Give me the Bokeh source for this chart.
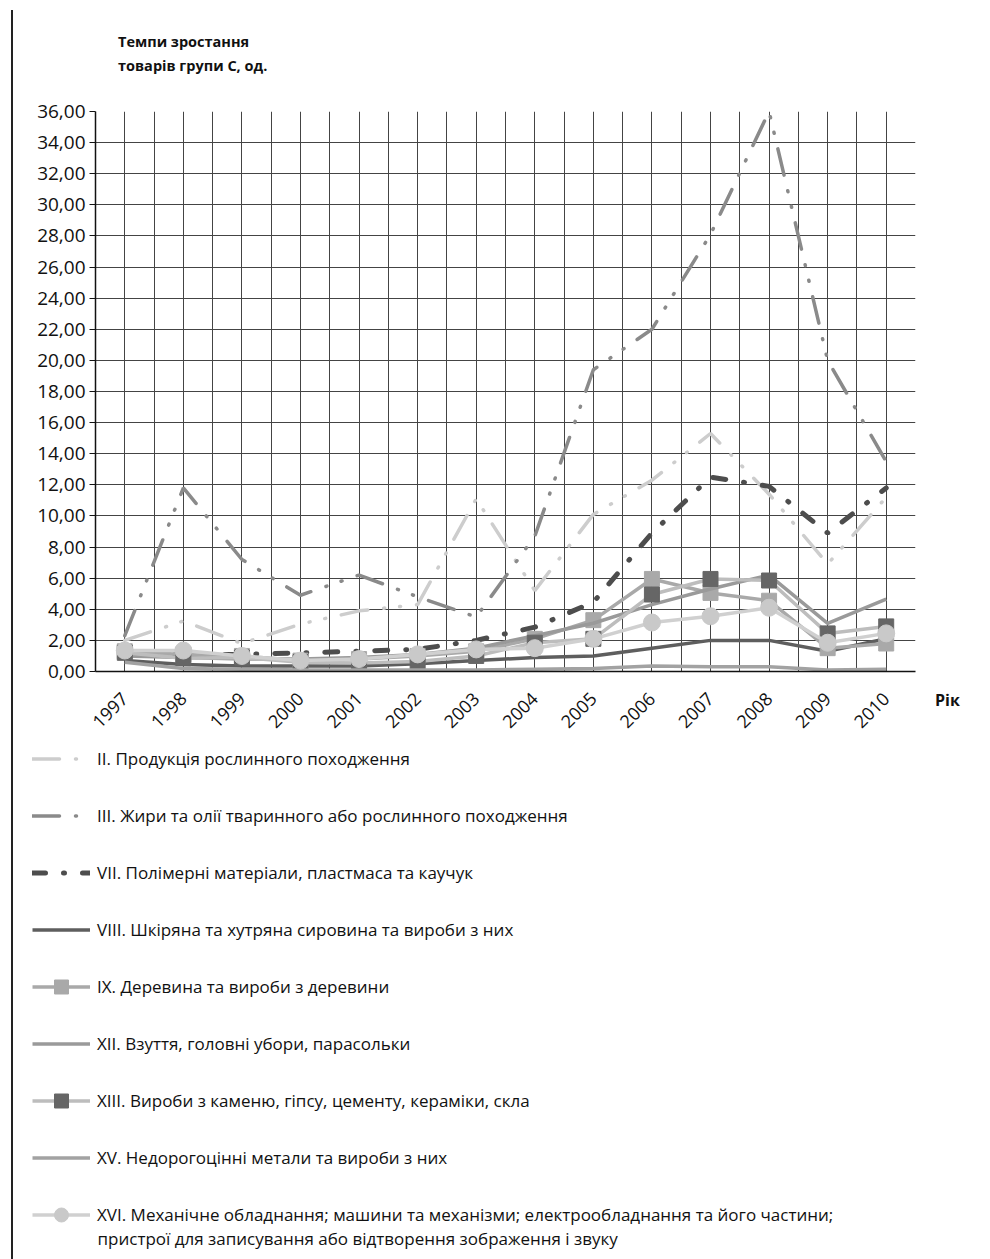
import numpy as np
from bokeh.plotting import figure
from bokeh.models import (FixedTicker, CustomJSTickFormatter, Legend, LegendItem,
                          Div, Range1d, Label)
from bokeh.layouts import row, column
from bokeh.embed import file_html
from bokeh.resources import INLINE

years = list(range(1997, 2011))

s_ii = [2.0, 3.25, 1.8, 3.05, 3.9, 4.3, 11.1, 5.2, 10.1, 12.3, 15.3, 11.4, 6.9, 11.2]
s_iii = [2.3, 11.8, 7.2, 4.9, 6.2, 4.8, 3.5, 8.7, 19.4, 22.0, 28.1, 36.0, 20.0, 13.5]
s_vii = [1.1, 1.1, 1.1, 1.2, 1.3, 1.42, 2.0, 2.85, 4.45, 8.9, 12.5, 11.9, 8.9, 11.8]
s_viii = [0.7, 0.45, 0.35, 0.35, 0.35, 0.5, 0.7, 0.9, 1.0, 1.5, 2.0, 2.0, 1.3, 2.1]
s_ix = [1.3, 1.1, 1.0, 0.7, 0.8, 1.0, 1.3, 2.1, 3.3, 5.95, 5.05, 4.55, 1.5, 1.8]
s_xii = [1.0, 0.9, 0.8, 0.8, 0.9, 1.1, 1.5, 2.3, 3.1, 4.3, 5.3, 6.2, 3.1, 4.65]
s_xiii = [1.2, 0.85, 0.9, 0.6, 0.55, 0.65, 1.0, 1.85, 2.1, 4.95, 5.95, 5.85, 2.45, 2.9]
s_xv = [0.6, 0.2, 0.15, 0.1, 0.1, 0.1, 0.1, 0.15, 0.2, 0.35, 0.3, 0.3, 0.1, 0.15]
s_xvi = [1.35, 1.35, 1.0, 0.7, 0.8, 1.1, 1.42, 1.5, 2.1, 3.15, 3.55, 4.1, 1.85, 2.45]

labels = [
    "II. Продукція рослинного походження",
    "III. Жири та олії тваринного або рослинного походження",
    "VII. Полімерні матеріали, пластмаса та каучук",
    "VIII. Шкіряна та хутряна сировина та вироби з них",
    "IX. Деревина та вироби з деревини",
    "XII. Взуття, головні убори, парасольки",
    "XIII. Вироби з каменю, гіпсу, цементу, кераміки, скла",
    "XV. Недорогоцінні метали та вироби з них",
    "XVI. Механічне обладнання; машини та механізми; електрообладнання та його частини;",
]
label_xvi_line2 = "пристрої для записування або відтворення зображення і звуку"
title_lines = ["Темпи зростання", "товарів групи С, од."]
x_title = "Рік"

y_ticks = list(range(0, 37, 2))
FONT = "Open Sans"

DDOT = "27 16 1 15 1 16"
# series styles: (values, line colour, width, dash, marker, marker colour, marker size)
series = [
    (s_ii, "#cdcdcd", 3.5, DDOT, None, None, 0),
    (s_iii, "#8a8a8a", 3.5, DDOT, None, None, 0),
    (s_vii, "#4d4d4d", 5, "13 18 1 18", None, None, 0),
    (s_viii, "#5e5e5e", 3.5, "solid", None, None, 0),
    (s_ix, "#a9a9a9", 3.5, "solid", "square", "#a9a9a9", 15),
    (s_xii, "#9a9a9a", 3.5, "solid", None, None, 0),
    (s_xiii, "#bdbdbd", 3.5, "solid", "square", "#666666", 15),
    (s_xv, "#a2a2a2", 3.5, "solid", None, None, 0),
    (s_xvi, "#d0d0d0", 3.5, "solid", "circle", "#c9c9c9", 17),
]


def draw(fig):
    items = []
    for (vals, col, w, dash, mk, mcol, msz), lab in zip(series, labels):
        rs = [fig.line(years, vals, line_color=col, line_width=w, line_dash=dash,
                       line_cap="round" if dash != "solid" else "butt")]
        if mk:
            rs.append(fig.scatter(years, vals, marker=mk, size=msz,
                                  fill_color=mcol, line_color=mcol))
        items.append(LegendItem(label=lab, renderers=rs))
    return items


# ---------------- main chart ----------------
p = figure(width=914, height=658, x_range=Range1d(1996.5, 2010.5),
           y_range=Range1d(0, 36), output_backend="svg", toolbar_location=None,
           min_border_left=82, min_border_right=12, min_border_top=33,
           min_border_bottom=64)
p.outline_line_color = None

p.xaxis.ticker = FixedTicker(ticks=years)
p.xaxis.major_label_orientation = np.pi / 4
p.xaxis.major_tick_line_color = None
p.xaxis.minor_tick_line_color = None
p.xaxis.axis_line_color = "#111111"
p.xaxis.axis_line_width = 1.5
p.xaxis.major_label_text_font = FONT
p.xaxis.major_label_text_font_size = "18px"
p.xaxis.major_label_text_color = "#111111"
p.xaxis.major_label_standoff = 18

p.yaxis.ticker = FixedTicker(ticks=y_ticks)
p.yaxis.formatter = CustomJSTickFormatter(code="return tick.toFixed(2).replace('.', ',');")
p.yaxis.major_tick_out = 6
p.yaxis.major_tick_in = 0
p.yaxis.minor_tick_line_color = None
p.yaxis.axis_line_color = "#111111"
p.yaxis.axis_line_width = 1.5
p.yaxis.major_tick_line_color = "#111111"
p.yaxis.major_label_text_font = FONT
p.yaxis.major_label_text_font_size = "19px"
p.yaxis.major_label_text_color = "#111111"
p.yaxis.major_label_standoff = 4

p.xgrid.ticker = FixedTicker(ticks=[1997 + 0.5 * i for i in range(27)])
p.ygrid.ticker = FixedTicker(ticks=y_ticks[1:-1])
p.xgrid.grid_line_color = "#444444"
p.ygrid.grid_line_color = "#444444"

draw(p)

# ---------------- legend panel ----------------
pl = figure(width=914, height=520, x_range=Range1d(0, 1), y_range=Range1d(0, 1),
            output_backend="svg", toolbar_location=None, x_axis_type=None,
            y_axis_type=None, min_border_left=19, min_border_top=5,
            min_border_right=0, min_border_bottom=0)
pl.outline_line_color = None
pl.grid.visible = False
legend_items = draw(pl)   # same series; they fall outside this panel's ranges
legend = Legend(items=legend_items, location="top_left",
                label_text_font=FONT, label_text_font_size="17px",
                label_text_color="#111111",
                glyph_width=58, glyph_height=35, label_height=35,
                spacing=22, padding=0, margin=0, label_standoff=7,
                border_line_color=None, background_fill_alpha=0)
pl.add_layout(legend)
# second line of the last legend entry (frame: 895 x 515 px)
pl.add_layout(Label(x=65 / 895, y=(515 - 497) / 515, text=label_xvi_line2,
                    text_font=FONT, text_font_size="17px", text_color="#111111",
                    text_baseline="middle", text_align="left"))

# ---------------- texts ----------------
title_div = Div(text="<b>" + "<br>".join(title_lines) + "</b>", width=300, height=48,
                margin=(30, 0, 0, 105),
                styles={"font-family": FONT, "font-size": "14.5px", "line-height": "24px",
                        "color": "#111111"})
rik_div = Div(text="<b>" + x_title + "</b>", width=40, height=24, margin=(610, 0, 0, 8),
              styles={"font-family": FONT, "font-size": "16px", "line-height": "24px",
                      "color": "#111111"})

bar = Div(width=2, height=1249, margin=(10, 0, 0, 11),
          styles={"background-color": "#222222"})

layout = row(bar, column(title_div, row(p, rik_div), pl))

open("out.html", "w").write(file_html(layout, INLINE))
